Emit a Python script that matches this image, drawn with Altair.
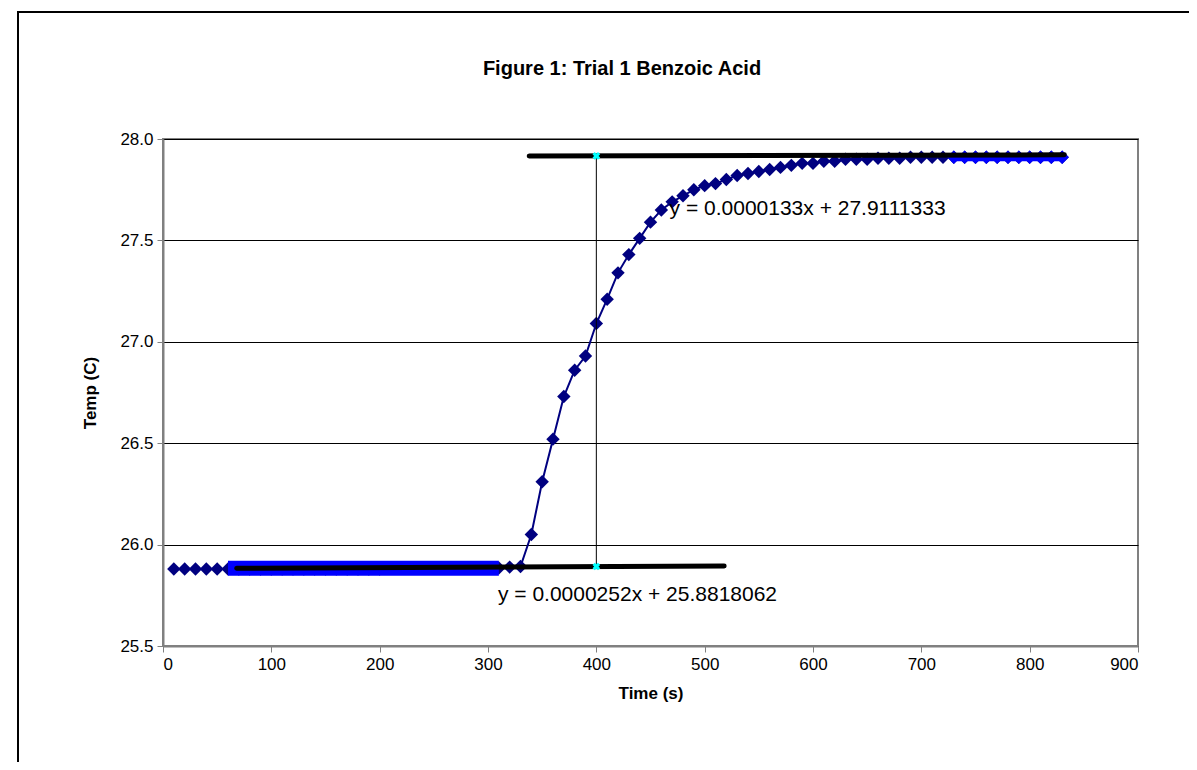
import altair as alt
import pandas as pd

# ---- data ----
times = [10, 20, 30, 40, 50, 60, 70, 80, 90, 100, 110, 120, 130, 140, 150, 160, 170, 180, 190, 200,
         210, 220, 230, 240, 250, 260, 270, 280, 290, 300, 310, 320, 330, 340, 350, 360, 370, 380, 390, 400,
         410, 420, 430, 440, 450, 460, 470, 480, 490, 500, 510, 520, 530, 540, 550, 560, 570, 580, 590, 600,
         610, 620, 630, 640, 650, 660, 670, 680, 690, 700, 710, 720, 730, 740, 750, 760, 770, 780, 790, 800,
         810, 820, 830]
temps = [25.88, 25.88, 25.88, 25.88, 25.88, 25.88, 25.88, 25.88, 25.88, 25.88, 25.88, 25.88, 25.88, 25.88, 25.88,
         25.88, 25.88, 25.88, 25.88, 25.88, 25.885, 25.885, 25.885, 25.885, 25.885, 25.885, 25.885, 25.885, 25.885,
         25.885, 25.885, 25.889, 25.892, 26.05, 26.31, 26.52, 26.73, 26.86, 26.93, 27.09,
         27.21, 27.34, 27.43, 27.51, 27.59, 27.65, 27.69, 27.72, 27.75, 27.77,
         27.78, 27.80, 27.82, 27.83, 27.84, 27.85, 27.86, 27.87, 27.88, 27.88,
         27.89, 27.89, 27.90, 27.90, 27.90, 27.905, 27.905, 27.905, 27.91, 27.91,
         27.91, 27.91, 27.91, 27.91, 27.91, 27.91, 27.91, 27.91, 27.91, 27.91,
         27.91, 27.91, 27.91]

pre_times = [60, 310]
pre_temps = [25.883, 25.883]

post_times = [730, 740, 750, 760, 770, 780, 790, 800, 810, 820, 830]
post_temps = [27.91, 27.91, 27.91, 27.91, 27.91, 27.91, 27.91, 27.91, 27.91, 27.91, 27.91]

lower_fit_x = [68, 518]
lower_fit_y = [25.8835, 25.8949]
upper_fit_x = [338, 832]
upper_fit_y = [27.9156, 27.9222]

cut_x = [400, 400]
cut_y = [25.8919, 27.9164]

label_x = [438, 595]
label_y = [25.752, 27.656]
label_text = ["y = 0.0000252x + 25.8818062", "y = 0.0000133x + 27.9111333"]

chart_title = "Figure 1: Trial 1 Benzoic Acid"

FONT = "Liberation Sans"

df = pd.DataFrame({"t": times, "T": temps})
df_pre = pd.DataFrame({"t": pre_times, "T": pre_temps})
df_post = pd.DataFrame({"t": post_times, "T": post_temps})
df_low = pd.DataFrame({"t": lower_fit_x, "T": lower_fit_y})
df_up = pd.DataFrame({"t": upper_fit_x, "T": upper_fit_y})
df_cut = pd.DataFrame({"t": cut_x, "T": cut_y})
df_lab = pd.DataFrame({"t": label_x, "T": label_y, "txt": label_text})

xs = alt.Scale(domain=[0, 900], nice=False, zero=False)
ys = alt.Scale(domain=[25.5, 28.0], nice=False, zero=False)

X = alt.X("t:Q", scale=xs, title="Time (s)",
          axis=alt.Axis(values=[0, 100, 200, 300, 400, 500, 600, 700, 800, 900], grid=False,
                        labelFontSize=17, titleFontSize=17, titleFontWeight="bold",
                        labelPadding=4, titlePadding=13, tickSize=6, tickColor="#808080",
                        domainColor="#808080", domainWidth=2, labelColor="black", titleColor="black",
                        labelFont=FONT, titleFont=FONT))
Y = alt.Y("T:Q", scale=ys, title="Temp (C)",
          axis=alt.Axis(values=[25.5, 26.0, 26.5, 27.0, 27.5, 28.0], format=".1f", grid=True,
                        gridColor="#000000", gridWidth=1, labelFontSize=17, titleFontSize=17,
                        titleFontWeight="bold", labelPadding=4, titlePadding=20, tickSize=6,
                        tickColor="#808080", domainColor="#808080", domainWidth=2,
                        labelColor="black", titleColor="black", labelFont=FONT, titleFont=FONT))

frame = alt.Chart(pd.DataFrame({"a": [0]})).mark_rect(
    fillOpacity=0, stroke="black", strokeWidth=2
).encode(x=alt.value(-145), x2=alt.value(1100), y=alt.value(-127), y2=alt.value(800))

title_mark = alt.Chart(pd.DataFrame({"txt": [chart_title]})).mark_text(
    font=FONT, fontSize=20, fontWeight="bold", color="black", align="center", baseline="middle"
).encode(x=alt.value(459), y=alt.value(-70), text="txt:N")

main_line = alt.Chart(df).mark_line(color="#000080", strokeWidth=2).encode(x=X, y=Y)
main_pts = alt.Chart(df).mark_point(shape="diamond", filled=True, color="#000080", size=180, opacity=1).encode(x="t:Q", y="T:Q")

pre_line = alt.Chart(df_pre).mark_line(color="#0000FF", strokeWidth=15, strokeCap="butt").encode(x="t:Q", y="T:Q")
post_line = alt.Chart(df_post).mark_line(color="#0000FF", strokeWidth=8, strokeCap="butt").encode(x="t:Q", y="T:Q")
post_pts = alt.Chart(df_post).mark_point(shape="diamond", filled=True, color="#0000FF", size=180, opacity=1).encode(x="t:Q", y="T:Q")

low_fit = alt.Chart(df_low).mark_line(color="black", strokeWidth=5, strokeCap="round").encode(x="t:Q", y="T:Q")
up_fit = alt.Chart(df_up).mark_line(color="black", strokeWidth=5, strokeCap="round").encode(x="t:Q", y="T:Q")

cut_line = alt.Chart(df_cut).mark_line(color="black", strokeWidth=1).encode(x="t:Q", y="T:Q")
cut_pts = alt.Chart(df_cut).mark_point(shape="cross", angle=45, filled=True, color="#00FFFF", size=60, opacity=1).encode(x="t:Q", y="T:Q")

labels = alt.Chart(df_lab).mark_text(font=FONT, fontSize=21, color="black", align="center", baseline="middle").encode(
    x="t:Q", y="T:Q", text="txt:N")

chart = alt.layer(
    frame, title_mark, main_line, main_pts, pre_line, post_line, post_pts, low_fit, up_fit, cut_line, cut_pts, labels
).properties(
    width=975, height=507,
    autosize=alt.AutoSizeParams(type="none"),
    padding={"left": 155, "top": 131, "right": 51, "bottom": 116},
).configure_view(stroke="#808080", strokeWidth=2)

chart.save("out.html", embed_options={"renderer": "svg", "actions": False})
